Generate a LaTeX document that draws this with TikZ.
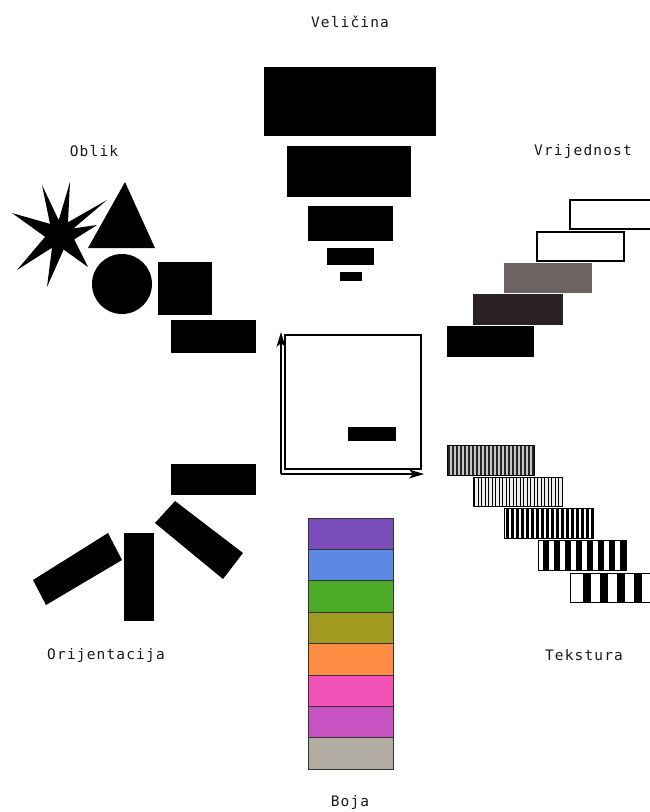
\documentclass[tikz,border=0pt]{standalone}
\usepackage{fontspec}
\usetikzlibrary{arrows.meta}
\newfontfamily\lbl[LetterSpace=8]{DejaVu Sans Mono}
\definecolor{cpurple}{HTML}{7A4CBC}
\definecolor{cblue}{HTML}{5C8AE2}
\definecolor{cgreen}{HTML}{4CAA26}
\definecolor{colive}{HTML}{A39A22}
\definecolor{corange}{HTML}{FF8C42}
\definecolor{cpink}{HTML}{F252B8}
\definecolor{cmagenta}{HTML}{C952C2}
\definecolor{cgray}{HTML}{B2ACA2}
\definecolor{vgray}{HTML}{6E6262}
\definecolor{vdark}{HTML}{2A2222}
\begin{document}
\begin{tikzpicture}[x=1pt,y=-1pt,
  lab/.style={font=\lbl\fontsize{14.5}{16}\selectfont, text=black!90},
  blk/.style={fill=black},
  outl/.style={draw=black, line width=1.3pt},
  axis/.style={line width=1.1pt, -{Stealth[length=15pt,width=9pt,inset=4pt]}}]
\useasboundingbox (0,0) rectangle (649,812);

% Labels
\node[lab] (lvel) at (350,22) {Veličina};
\node[lab] (lobl) at (94,151) {Oblik};
\node[lab] (lvri) at (583,151) {Vrijednost};
\node[lab] (lori) at (106,655) {Orijentacija};
\node[lab] (ltek) at (584,655) {Tekstura};
\node[lab] (lboj) at (350,802) {Boja};

% Size
\fill[blk] (264,67) rectangle (436,136);
\fill[blk] (287,146) rectangle (411,197);
\fill[blk] (308,206) rectangle (393,241);
\fill[blk] (327,248) rectangle (374,265);
\fill[blk] (340,272) rectangle (362,281);

% Shape
\fill[blk] (70,182) -- (68,222.3) -- (107,200) -- (73.5,228.4) -- (97,225) -- (74.3,239.4)
  -- (88,267) -- (63.6,249.6) -- (47,287) -- (52,247.7) -- (17,270) -- (45.1,236.8)
  -- (12,213) -- (50,223.9) -- (42,185) -- (58.7,220.1) -- cycle;
\fill[blk] (125,182) -- (155,248) -- (88,248) -- cycle;
\fill[blk] (122,284) circle (30);
\fill[blk] (158,262) rectangle (212,315);
\fill[blk] (171,320) rectangle (256,353);

% Value
\draw[outl] (651,200) -- (570,200) -- (570,229) -- (651,229);
\draw[outl] (537,232) rectangle (624,261);
\fill[vgray] (504,263) rectangle (592,293);
\fill[vdark] (473,294) rectangle (563,325);
\fill[blk] (447,326) rectangle (534,357);

% Centre
\coordinate (orig) at (281,474);
\coordinate (ytip) at (281,332);
\coordinate (xtip) at (424,474);
\draw[axis] (orig) -- (ytip);
\draw[axis] (orig) -- (xtip);
\draw[line width=1.6pt] (285,335) rectangle (421,469);
\fill[blk] (348,427) rectangle (396,441);

% Orientation
\fill[blk] (171,464) rectangle (256,495);
\fill[blk] (175,501) -- (243,553) -- (223,579) -- (155,523) -- cycle;
\fill[blk] (124,533) rectangle (154,621);
\fill[blk] (33,580) -- (108,533) -- (122,560) -- (46,605) -- cycle;

% Texture
\begin{scope}
  \fill[gray!45] (447,445) rectangle (534,475);
  \clip (447,445) rectangle (534,475);
  \foreach \i in {0,...,25} \fill[black!85] ({448+\i*4},445) rectangle ({449.6+\i*4},475);
\end{scope}
\draw[line width=1pt] (447,445) rectangle (534,475);
\begin{scope}
  \fill[gray!15] (473,477) rectangle (562,506);
  \clip (473,477) rectangle (562,506);
  \foreach \i in {0,...,30} \fill[black] ({474+\i*3.5},477) rectangle ({475.3+\i*3.5},506);
\end{scope}
\draw[line width=1pt] (473,477) rectangle (562,506);
\begin{scope}
  \clip (504,508) rectangle (593,538);
  \foreach \i in {0,...,20} \fill[black] ({506+\i*5},508) rectangle ({508.5+\i*5},538);
\end{scope}
\draw[line width=1pt] (504,508) rectangle (593,538);
\begin{scope}
  \clip (538,540) rectangle (626,570);
  \foreach \i in {0,...,9} \fill[black] ({543+\i*11},540) rectangle ({548.5+\i*11},570);
\end{scope}
\draw[line width=1pt] (538,540) rectangle (626,570);
\begin{scope}
  \clip (570,573) rectangle (652,602);
  \foreach \i in {0,...,5} \fill[black] ({582.5+\i*17},573) rectangle ({591+\i*17},602);
\end{scope}
\draw[line width=1pt] (651,573) -- (570,573) -- (570,602) -- (651,602);

% Colour
\foreach \c [count=\k from 0] in {cpurple,cblue,cgreen,colive,corange,cpink,cmagenta,cgray}
  \filldraw[fill=\c, draw=black!80, line width=0.9pt] (308,{518+\k*31.4}) rectangle (393,{518+(\k+1)*31.4});
\end{tikzpicture}
\end{document}
